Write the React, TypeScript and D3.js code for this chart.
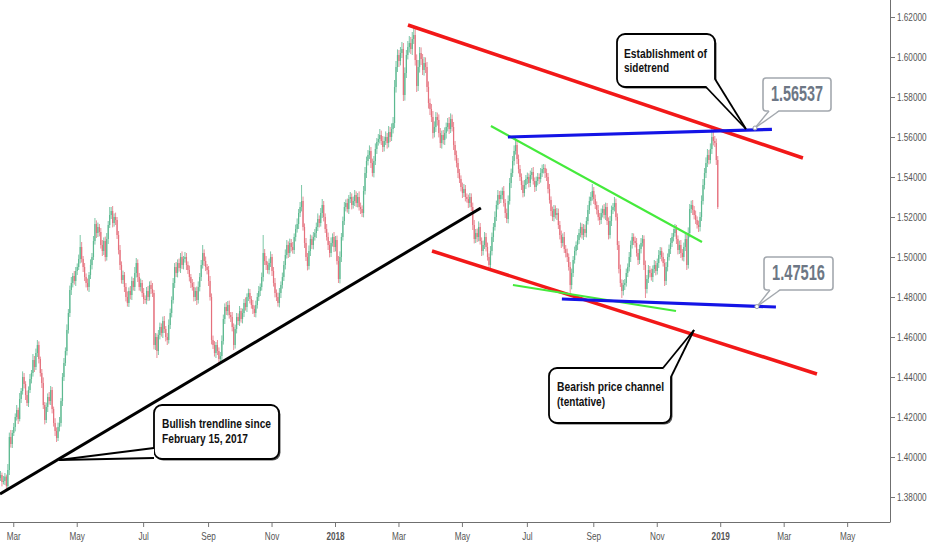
import React from "react";
import * as d3 from "d3";

const W = 932;
const H = 550;

// Daily bars (weekdays) starting at this date
const START_DATE = "2017-02-15";
const FIRST_OPEN = 1.388;

const CLOSES = [
  1.3895, 1.391, 1.3875, 1.388, 1.3902, 1.3855, 1.3935, 1.41, 1.4065, 1.412,
  1.415, 1.42, 1.4235, 1.419, 1.429, 1.433, 1.44, 1.4365, 1.431, 1.427,
  1.4335, 1.439, 1.442, 1.4485, 1.445, 1.452, 1.456, 1.449, 1.442, 1.437,
  1.426, 1.4185, 1.425, 1.43, 1.428, 1.4335, 1.424, 1.417, 1.413, 1.4095,
  1.415, 1.417, 1.428, 1.44, 1.447, 1.453, 1.4635, 1.472, 1.4835, 1.487,
  1.4905, 1.488, 1.493, 1.495, 1.499, 1.505, 1.499, 1.495, 1.49, 1.487,
  1.485, 1.491, 1.496, 1.5, 1.508, 1.5165, 1.512, 1.515, 1.5125, 1.506,
  1.503, 1.508, 1.5, 1.509, 1.516, 1.521, 1.523, 1.517, 1.52, 1.5185,
  1.511, 1.5035, 1.496, 1.4885, 1.491, 1.485, 1.48, 1.477, 1.483, 1.481,
  1.488, 1.485, 1.492, 1.497, 1.49, 1.485, 1.487, 1.482, 1.479, 1.4785,
  1.483, 1.48, 1.486, 1.484, 1.482, 1.456, 1.46, 1.453, 1.461, 1.465,
  1.462, 1.468, 1.464, 1.46, 1.4585, 1.466, 1.472, 1.4785, 1.487, 1.495,
  1.492, 1.497, 1.4945, 1.5, 1.496, 1.499, 1.5, 1.496, 1.4935, 1.49,
  1.487, 1.485, 1.48, 1.483, 1.4785, 1.485, 1.49, 1.496, 1.502, 1.498,
  1.495, 1.4935, 1.488, 1.48, 1.4585, 1.456, 1.452, 1.456, 1.453, 1.449,
  1.4505, 1.458, 1.469, 1.475, 1.473, 1.476, 1.471, 1.47, 1.465, 1.456,
  1.464, 1.47, 1.468, 1.473, 1.469, 1.472, 1.477, 1.475, 1.48, 1.482,
  1.479, 1.476, 1.474, 1.472, 1.476, 1.48, 1.483, 1.485, 1.49, 1.502,
  1.498, 1.496, 1.4935, 1.497, 1.5, 1.493, 1.487, 1.482, 1.48, 1.477,
  1.482, 1.486, 1.49, 1.496, 1.501, 1.506, 1.502, 1.507, 1.505, 1.5035,
  1.51, 1.514, 1.5165, 1.522, 1.525, 1.528, 1.515, 1.507, 1.5, 1.4955,
  1.503, 1.509, 1.506, 1.51, 1.512, 1.515, 1.519, 1.517, 1.522, 1.526,
  1.52, 1.514, 1.51, 1.506, 1.502, 1.507, 1.51, 1.505, 1.5085, 1.498,
  1.489, 1.5, 1.51, 1.518, 1.525, 1.527, 1.524, 1.529, 1.53, 1.526,
  1.528, 1.531, 1.527, 1.53, 1.525, 1.524, 1.522, 1.533, 1.542, 1.548,
  1.551, 1.553, 1.547, 1.542, 1.548, 1.554, 1.5575, 1.559, 1.561, 1.558,
  1.555, 1.558, 1.56, 1.557, 1.5625, 1.56, 1.564, 1.567, 1.585, 1.595,
  1.601, 1.598, 1.602, 1.604, 1.581, 1.592, 1.601, 1.605, 1.607, 1.604,
  1.609, 1.611, 1.5985, 1.5855, 1.595, 1.602, 1.599, 1.5935, 1.597, 1.595,
  1.585, 1.577, 1.574, 1.57, 1.562, 1.565, 1.57, 1.5685, 1.562, 1.557,
  1.561, 1.5585, 1.562, 1.565, 1.567, 1.564, 1.569, 1.565, 1.556, 1.551,
  1.547, 1.542, 1.539, 1.535, 1.532, 1.534, 1.53, 1.529, 1.527, 1.53,
  1.525, 1.516, 1.509, 1.512, 1.51, 1.515, 1.508, 1.503, 1.506, 1.51,
  1.505, 1.5, 1.496, 1.503, 1.51, 1.515, 1.52, 1.526, 1.531, 1.529,
  1.531, 1.533, 1.527, 1.522, 1.519, 1.528, 1.537, 1.542, 1.548, 1.553,
  1.556, 1.549, 1.544, 1.54, 1.536, 1.532, 1.536, 1.539, 1.54, 1.537,
  1.541, 1.5425, 1.538, 1.535, 1.538, 1.54, 1.539, 1.542, 1.544, 1.5445,
  1.542, 1.54, 1.534, 1.5285, 1.523, 1.52, 1.524, 1.521, 1.522, 1.516,
  1.511, 1.507, 1.51, 1.504, 1.502, 1.5, 1.495, 1.486, 1.492, 1.4985,
  1.503, 1.506, 1.5085, 1.512, 1.515, 1.511, 1.514, 1.512, 1.518, 1.5235,
  1.528, 1.53, 1.533, 1.529, 1.526, 1.5235, 1.52, 1.5185, 1.522, 1.524,
  1.521, 1.525, 1.518, 1.511, 1.518, 1.5235, 1.525, 1.527, 1.52, 1.506,
  1.494, 1.487, 1.483, 1.486, 1.487, 1.492, 1.495, 1.5, 1.506, 1.51,
  1.508, 1.507, 1.502, 1.4985, 1.504, 1.507, 1.509, 1.496, 1.484, 1.489,
  1.4935, 1.492, 1.49, 1.494, 1.496, 1.493, 1.497, 1.501, 1.503, 1.5,
  1.497, 1.488, 1.495, 1.5, 1.504, 1.507, 1.51, 1.512, 1.514, 1.509,
  1.5035, 1.506, 1.502, 1.5, 1.505, 1.509, 1.496, 1.512, 1.524, 1.526,
  1.5235, 1.521, 1.5185, 1.516, 1.515, 1.52, 1.528, 1.536, 1.542, 1.547,
  1.551, 1.5485, 1.554, 1.56, 1.558, 1.557, 1.5485, 1.525,
];

// Wick extents in pips above max(open, close) and below min(open, close)
const UP_WICK = [
  15,20,12,25,18,10,30,22,35,15, 20,18,25,12,30,15,28,20,14,22,
  18,25,15,30,20,22,25,18,12,20, 28,15,22,18,25,20,15,12,24,18,
  22,30,15,20,25,18,28,20,22,30, 15,25,20,18,22,60,25,15,20,18,
  22,15,28,20,25,30,18,22,15,20, 25,18,22,30,20,40,20,25,18,22,
  15,20,25,18,22,15,20,28,18,25, 22,15,30,25,18,20,22,15,25,18,
  20,25,18,22,30,15,20,18,25,22, 18,22,25,15,20,28,22,18,25,20,
  25,18,22,20,28,15,25,20,18,22, 15,20,25,18,22,28,20,25,40,18,
  22,15,20,25,18,22,20,15,25,18, 20,28,22,18,25,20,22,15,25,18,
  22,20,18,25,15,22,20,28,18,22, 20,15,25,18,22,20,25,18,22,90,
  20,25,18,22,28,15,20,25,18,22, 25,18,22,20,28,25,18,22,20,25,
  18,22,28,20,25,80,22,18,25,20, 28,22,18,25,20,22,28,18,25,30,
  20,18,25,22,20,28,18,25,20,22, 25,28,20,22,25,18,22,20,25,18,
  22,25,18,20,28,22,18,25,30,22, 25,28,20,22,25,28,20,25,30,22,
  25,22,28,20,30,25,28,30,35,30, 28,25,30,35,30,28,25,30,35,30,
  35,45,30,28,35,30,28,25,30,28, 25,28,22,25,30,28,25,22,28,25,
  22,25,28,22,25,30,28,22,25,20, 22,25,20,18,22,25,20,18,22,20,
  18,22,25,20,22,28,20,18,22,25, 20,22,18,25,22,20,28,22,25,20,
  22,18,25,20,22,28,25,22,25,28, 35,25,22,20,18,22,25,20,22,18,
  22,20,25,18,22,20,18,25,22,20, 18,22,20,25,18,22,20,18,25,22,
  20,22,18,25,20,22,18,25,22,20, 22,18,25,20,22,18,25,22,20,25,
  22,25,35,20,22,18,25,20,22,18, 25,22,20,18,25,22,20,30,22,18,
  20,22,18,25,20,22,18,25,22,20, 18,22,25,20,22,25,20,18,22,20,
  25,20,22,18,25,20,22,25,20,18, 22,20,25,18,22,25,20,22,25,20,
  18,22,25,20,22,25,20,28,25,22, 25,20,22,18,22,25,28,30,25,28,
  30,25,28,55,30,25,22,20,
];

const DOWN_WICK = [
  18,15,22,12,20,20,15,25,18,20, 15,22,18,25,12,20,18,22,25,15,
  20,15,22,18,25,15,20,22,18,25, 20,22,15,25,18,20,22,18,25,20,
  15,22,18,25,20,15,22,18,20,25, 22,18,25,20,15,22,18,25,20,22,
  18,25,20,22,15,18,25,20,22,18, 25,20,22,18,25,15,20,22,18,25,
  20,22,25,18,20,25,22,18,20,22, 25,18,20,22,25,18,22,20,25,18,
  22,20,18,25,20,22,25,35,20,22, 18,25,20,22,25,18,20,22,18,25,
  20,22,18,25,20,22,18,25,20,22, 25,18,22,20,25,18,22,20,18,25,
  20,22,25,18,22,20,18,25,20,22, 15,22,18,25,20,22,18,25,22,25,
  18,22,20,25,18,22,20,18,25,20, 22,18,25,20,22,18,20,25,18,22,
  20,25,18,22,20,25,18,22,20,18, 22,25,18,20,22,18,25,20,22,18,
  20,22,18,25,20,22,18,25,20,22, 18,25,20,22,18,25,20,22,18,25,
  22,20,18,25,22,20,18,25,22,18, 20,22,25,18,20,22,18,25,20,22,
  18,25,20,22,18,25,20,22,18,25, 22,20,25,18,22,20,25,18,22,20,
  25,22,20,28,22,25,20,22,25,28, 25,30,22,25,30,28,25,22,28,25,
  30,25,28,30,25,28,30,25,28,30, 25,28,30,25,28,22,25,28,22,25,
  28,22,25,28,22,25,20,22,25,28, 22,25,20,22,25,20,22,18,25,22,
  20,25,22,20,25,22,18,25,22,20, 22,18,25,20,22,25,18,20,22,25,
  20,22,18,25,20,22,18,25,20,22, 18,25,22,20,25,22,18,20,25,22,
  20,22,18,25,20,22,25,18,20,22, 25,20,22,18,25,20,22,18,25,20,
  22,25,18,20,22,25,18,45,22,20, 18,22,25,20,22,18,25,20,22,18,
  20,22,18,25,20,22,18,25,20,22, 18,25,20,22,18,25,20,22,18,25,
  22,20,35,22,25,18,20,22,25,18, 20,22,18,25,20,22,18,25,45,22,
  20,22,18,25,20,22,18,25,20,22, 18,25,20,22,18,25,20,22,18,25,
  22,20,25,18,22,20,25,18,22,20, 25,22,20,18,25,22,20,18,22,25,
  20,22,18,25,22,20,25,10,
];

const Y_TICKS = [1.38, 1.4, 1.42, 1.44, 1.46, 1.48, 1.5, 1.52, 1.54, 1.56, 1.58, 1.6, 1.62];
const X_TICK_DATES = [
  "2017-03-01", "2017-05-01", "2017-07-01", "2017-09-01", "2017-11-01", "2018-01-01", "2018-03-01",
  "2018-05-01", "2018-07-01", "2018-09-01", "2018-11-01", "2019-01-01", "2019-03-01", "2019-05-01",
];
const X_TICK_LABELS = ["Mar", "May", "Jul", "Sep", "Nov", "2018", "Mar", "May", "Jul", "Sep", "Nov", "2019", "Mar", "May"];

// Drawn lines: [barIndex, price] endpoints
const TRENDLINES = [
  { name: "bullish", color: "#000000", width: 3, p: [[0.7, 1.3815], [326.5, 1.5245]] },
  { name: "channelTop", color: "#f21818", width: 3.5, p: [[277.1, 1.616], [544.7, 1.5495]] },
  { name: "channelBottom", color: "#f21818", width: 3.5, p: [[293.4, 1.503], [554.2, 1.4415]] },
  { name: "greenTop", color: "#45ea3c", width: 2.2, p: [[333.3, 1.5655], [476.3, 1.5075]] },
  { name: "greenBottom", color: "#45ea3c", width: 2.2, p: [[348.2, 1.486], [458.7, 1.473]] },
  { name: "blueTop", color: "#1414e6", width: 3.2, p: [[344.8, 1.56], [523.7, 1.5638]] },
  { name: "blueBottom", color: "#1414e6", width: 3.2, p: [[381.4, 1.479], [526.4, 1.475]] },
];

const CALLOUTS = [
  { lines: ["Bullish trendline since", "February 15, 2017"], widths: [109, 86], box: [154, 405, 125, 54], textX: 162, base: [428, 443], tip: [40.6, 1.3985], wedge: [[154, 448], [154, 458]] },
  { lines: ["Establishment of", "sidetrend"], widths: [83, 45], box: [617, 34, 98, 53], textX: 624, base: [58, 72], tip: [506.1, 1.564], wedge: [[706, 87], [715, 79]] },
  { lines: ["Bearish price channel", "(tentative)"], widths: [107, 48], box: [549, 368, 122, 55], textX: 557, base: [391, 406], tip: [470.9, 1.4635], wedge: [[663, 368], [671, 377]] },
];

const PRICE_LABELS = [
  { text: "1.56537", box: [763, 78, 68, 33], tip: [512.2, 1.5645], textW: 52 },
  { text: "1.47516", box: [764, 257, 69, 33], tip: [513.5, 1.4752], textW: 53 },
];

const UP_COLOR = "#5cb990";
const DOWN_COLOR = "#e5707c";
const NARROW = "'Liberation Sans Narrow', 'Arial Narrow', 'Liberation Sans', Arial, sans-serif";

function weekdayIndex(dateStr: string): number {
  const s = Date.parse(START_DATE + "T00:00:00Z");
  let d = Date.parse(dateStr + "T00:00:00Z");
  while ([0, 6].includes(new Date(d).getUTCDay())) d += 864e5;
  let n = 0;
  for (let t = s; t < d; t += 864e5) {
    const wd = new Date(t).getUTCDay();
    if (wd !== 0 && wd !== 6) n++;
  }
  return n;
}

function NarrowText(props: { x: number; y: number; anchor?: string; size: number; sx: number; fill: string; weight?: string; children: React.ReactNode }) {
  return (
    <g transform={`translate(${props.x},${props.y}) scale(${props.sx},1)`}>
      <text
        x={0}
        y={0}
        textAnchor={props.anchor || "start"}
        fontSize={props.size}
        fill={props.fill}
        fontWeight={props.weight || "normal"}
        fontFamily={NARROW}
      >
        {props.children}
      </text>
    </g>
  );
}

export default function App() {
  const plotRight = 890;
  const plotBottom = 522;
  const x = d3.scaleLinear().domain([0, 603.7]).range([-1, plotRight]);
  const y = d3.scaleLinear().domain([1.38, 1.62]).range([497, 17]);

  const n = Math.min(CLOSES.length, UP_WICK.length, DOWN_WICK.length);
  const bars = d3.range(n).map((i) => {
    const o = i === 0 ? FIRST_OPEN : CLOSES[i - 1];
    const c = CLOSES[i];
    const hi = Math.max(o, c) + UP_WICK[i] / 10000;
    const lo = Math.min(o, c) - DOWN_WICK[i] / 10000;
    return { i, o, c, hi, lo };
  });

  const xTicks = X_TICK_DATES.map((d, k) => ({ pos: x(weekdayIndex(d)), label: X_TICK_LABELS[k] }));
  const fmt = d3.format(".5f");

  return (
    <svg width={W} height={H} style={{ position: "absolute", left: 0, top: 0, background: "#fff" }}>
      <rect x={0} y={0} width={W} height={H} fill="#ffffff" />
      <defs>
        <clipPath id="plot">
          <rect x={0} y={0} width={plotRight} height={plotBottom} />
        </clipPath>
      </defs>
      <g clipPath="url(#plot)">
        {bars.map((b) => {
          const col = b.c >= b.o ? UP_COLOR : DOWN_COLOR;
          const cx = x(b.i);
          const top = y(Math.max(b.o, b.c));
          const bot = y(Math.min(b.o, b.c));
          return (
            <g key={b.i}>
              <line x1={cx} x2={cx} y1={y(b.hi)} y2={y(b.lo)} stroke={col} strokeWidth={0.8} />
              <rect x={cx - 0.6} y={top} width={1.2} height={Math.max(0.8, bot - top)} fill={col} />
            </g>
          );
        })}
        {TRENDLINES.map((t) => (
          <line
            key={t.name}
            x1={x(t.p[0][0])}
            y1={y(t.p[0][1])}
            x2={x(t.p[1][0])}
            y2={y(t.p[1][1])}
            stroke={t.color}
            strokeWidth={t.width}
            strokeLinecap="butt"
          />
        ))}
      </g>

      {/* axes */}
      <line x1={plotRight + 0.5} x2={plotRight + 0.5} y1={0} y2={plotBottom} stroke="#6f6f6f" strokeWidth={1} />
      <line x1={0} x2={plotRight + 0.5} y1={plotBottom + 0.5} y2={plotBottom + 0.5} stroke="#6f6f6f" strokeWidth={1} />
      {Y_TICKS.map((v) => (
        <g key={v}>
          <line x1={plotRight + 1} x2={plotRight + 5} y1={Math.round(y(v)) + 0.5} y2={Math.round(y(v)) + 0.5} stroke="#777" />
          <NarrowText x={plotRight + 7} y={y(v) + 3.8} size={10.5} sx={0.78} fill="#555">
            {fmt(v)}
          </NarrowText>
        </g>
      ))}
      {xTicks.map((t, k) => (
        <g key={k}>
          <line x1={t.pos} x2={t.pos} y1={plotBottom + 1} y2={plotBottom + 5} stroke="#777" />
          <NarrowText
            x={t.pos}
            y={540}
            anchor="middle"
            size={10.5}
            sx={0.78}
            fill="#555"
            weight={/^\d+$/.test(t.label) ? "bold" : "normal"}
          >
            {t.label}
          </NarrowText>
        </g>
      ))}

      {/* callouts */}
      {CALLOUTS.map((c, k) => {
        const [bx, by, bw, bh] = c.box;
        const tx = x(c.tip[0]);
        const ty = y(c.tip[1]);
        const [a, b] = c.wedge;
        return (
          <g key={k}>
            <rect x={bx + 1.5} y={by + 1.5} width={bw} height={bh} rx={8} fill="#555" />
            <rect x={bx} y={by} width={bw} height={bh} rx={8} fill="#fff" stroke="#000" strokeWidth={1.8} />
            <polygon points={`${a[0]},${a[1]} ${tx},${ty} ${b[0]},${b[1]}`} fill="#fff" stroke="none" />
            <line x1={a[0]} y1={a[1]} x2={tx} y2={ty} stroke="#000" strokeWidth={1.8} />
            <line x1={b[0]} y1={b[1]} x2={tx} y2={ty} stroke="#000" strokeWidth={1.8} />
            {c.lines.map((ln, j) => (
              <text
                key={j}
                x={c.textX}
                y={c.base[j]}
                fontSize={13.5}
                fontWeight="bold"
                fill="#111"
                fontFamily={NARROW}
                textLength={c.widths[j]}
                lengthAdjust="spacingAndGlyphs"
              >
                {ln}
              </text>
            ))}
          </g>
        );
      })}

      {PRICE_LABELS.map((p, k) => {
        const [bx, by, bw, bh] = p.box;
        const tx = x(p.tip[0]);
        const ty = y(p.tip[1]);
        return (
          <g key={k}>
            <rect x={bx} y={by} width={bw} height={bh} rx={3} fill="#fff" stroke="#a3a8ae" strokeWidth={1.6} />
            <polygon points={`${bx + 6},${by + bh - 1} ${tx},${ty} ${bx + 16},${by + bh - 1}`} fill="#fff" stroke="none" />
            <line x1={bx + 6} y1={by + bh} x2={tx} y2={ty} stroke="#a3a8ae" strokeWidth={1.4} />
            <line x1={bx + 16} y1={by + bh} x2={tx} y2={ty} stroke="#a3a8ae" strokeWidth={1.4} />
            <circle cx={tx} cy={ty} r={2} fill="#fff" stroke="#9aa0a6" strokeWidth={1} />
            <text
              x={bx + bw / 2}
              y={by + bh - 10}
              textAnchor="middle"
              fontSize={22}
              fontWeight="bold"
              fill="#6d7785"
              fontFamily={NARROW}
              textLength={p.textW}
              lengthAdjust="spacingAndGlyphs"
            >
              {p.text}
            </text>
          </g>
        );
      })}
    </svg>
  );
}
